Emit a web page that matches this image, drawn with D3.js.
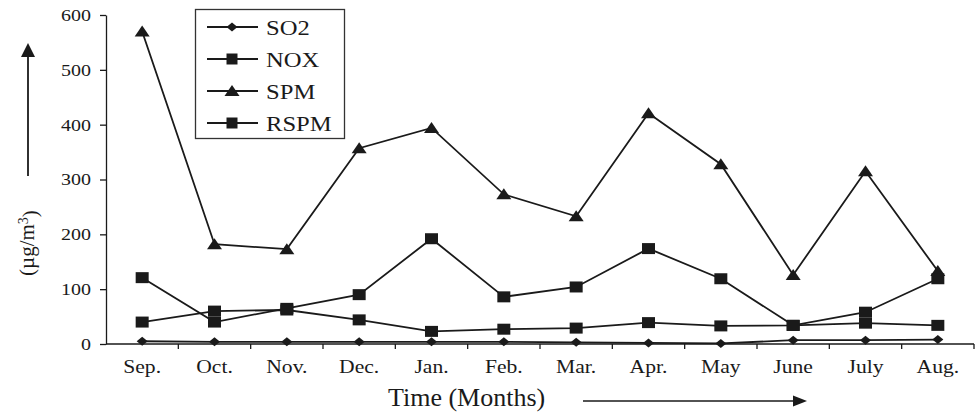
<!DOCTYPE html>
<html><head><meta charset="utf-8">
<script src="https://cdn.jsdelivr.net/npm/d3@7"></script>
<style>
html,body{margin:0;padding:0;background:#fff;}
svg{display:block;}
text{font-family:"Liberation Serif","Times New Roman",serif;fill:#1a1a1a;}
</style></head>
<body>
<script>
const months = ["Sep.","Oct.","Nov.","Dec.","Jan.","Feb.","Mar.","Apr.","May","June","July","Aug."];
const so2  = [5, 4, 4, 4, 4, 4, 3, 2, 1, 7, 7, 8];
const nox  = [40, 60, 62, 44, 23, 27, 29, 39, 33, 34, 38, 34];
const spm  = [570, 182, 173, 357, 394, 273, 233, 421, 328, 126, 315, 133];
const rspm = [121, 40, 65, 90, 192, 86, 104, 174, 119, 34, 58, 119];
const seriesNames = ["SO2","NOX","SPM","RSPM"];
const seriesShapes = ["diamond","square","triangle","square"];
const yTicks = [0,100,200,300,400,500,600];

const W = 975, H = 412;
const ink = "#1a1a1a";
const svg = d3.select("body").append("svg").attr("width", W).attr("height", H);

const x = d3.scaleBand().domain(months).range([106, 974]);
const y = d3.scaleLinear().domain([0, 600]).range([344, 15]);
const cx = d => x(d) + x.bandwidth() / 2;

// Y axis
const yAxis = svg.append("g").attr("transform", "translate(106,0)")
  .call(d3.axisLeft(y).tickValues(yTicks).tickSize(6).tickSizeOuter(0));
yAxis.select(".domain").attr("stroke", ink).attr("stroke-width", 1.3);
yAxis.selectAll(".tick line").attr("stroke", ink).attr("stroke-width", 1.3);
yAxis.selectAll(".tick text")
  .attr("x", null).attr("dy", "0.34em")
  .attr("transform", "translate(-15,0) scale(1.25,1)")
  .attr("text-anchor", "end")
  .style("font-size", "16px").style("font-family", "Liberation Serif").attr("fill", ink);

// X axis
const xg = svg.append("g").attr("transform", "translate(0,344)");
xg.append("line").attr("x1", x.range()[0]).attr("x2", x.range()[1])
  .attr("stroke", ink).attr("stroke-width", 1.3);
xg.selectAll("line.tk").data(months).join("line").attr("class", "tk")
  .attr("x1", d => x(d) + x.bandwidth()).attr("x2", d => x(d) + x.bandwidth())
  .attr("y1", 0).attr("y2", 5).attr("stroke", ink).attr("stroke-width", 1.3);
xg.selectAll("text.lbl").data(months).join("text").attr("class", "lbl")
  .attr("transform", d => `translate(${cx(d)},29) scale(1.2,1)`)
  .attr("text-anchor", "middle").style("font-size", "18px").text(d => d);

// Series lines
const allSeries = [so2, nox, spm, rspm];
const line = d3.line().x((v, i) => cx(months[i])).y(v => y(v));
allSeries.forEach(vals => {
  svg.append("path").attr("d", line(vals)).attr("fill", "none")
    .attr("stroke", ink).attr("stroke-width", 1.8);
});

function shapePath(shape) {
  if (shape === "diamond") return "M0,-4.5L5.5,0L0,4.5L-5.5,0Z";
  if (shape === "square") return "M-6.5,-5.5H6.5V5.5H-6.5Z";
  return "M0,-6L7.5,5H-7.5Z";
}
allSeries.forEach((vals, si) => {
  svg.append("g").selectAll("path").data(vals).join("path")
    .attr("d", shapePath(seriesShapes[si]))
    .attr("transform", (v, i) => `translate(${cx(months[i])},${y(v)})`)
    .attr("fill", ink);
});

// Legend
const lg = svg.append("g");
lg.append("rect").attr("x", 195.5).attr("y", 9.5).attr("width", 149).attr("height", 129)
  .attr("fill", "#fff").attr("stroke", "#333").attr("stroke-width", 1.3);
seriesNames.forEach((name, i) => {
  const ly = 27 + i * 32;
  lg.append("line").attr("x1", 207).attr("x2", 258).attr("y1", ly).attr("y2", ly)
    .attr("stroke", ink).attr("stroke-width", 1.8);
  lg.append("path").attr("d", seriesShapes[i] === "square" ? "M-5.5,-5.5H5.5V5.5H-5.5Z" : shapePath(seriesShapes[i]))
    .attr("transform", `translate(232,${ly})`).attr("fill", ink);
  lg.append("text").attr("transform", `translate(266,${ly + 7.5}) scale(1.12,1)`)
    .style("font-size", "22px").text(name);
});

// Axis titles
svg.append("text").attr("x", 388).attr("y", 406).style("font-size", "26px").text("Time (Months)");
svg.append("line").attr("x1", 583).attr("x2", 796).attr("y1", 401).attr("y2", 401)
  .attr("stroke", ink).attr("stroke-width", 1.5);
svg.append("path").attr("d", "M807,401L793,395.5L793,406.5Z").attr("fill", ink);

const yt = svg.append("text").attr("transform", "translate(34,243) rotate(-90)")
  .attr("text-anchor", "middle").style("font-size", "21px");
yt.append("tspan").text("(µg/m");
yt.append("tspan").attr("dy", "-0.4em").style("font-size", "14px").text("3");
yt.append("tspan").attr("dy", "0.4em").text(")");
svg.append("line").attr("x1", 28).attr("x2", 28).attr("y1", 176).attr("y2", 54)
  .attr("stroke", ink).attr("stroke-width", 1.8);
svg.append("path").attr("d", "M28,43L21,57L35,57Z").attr("fill", ink);
</script>
</body></html>
